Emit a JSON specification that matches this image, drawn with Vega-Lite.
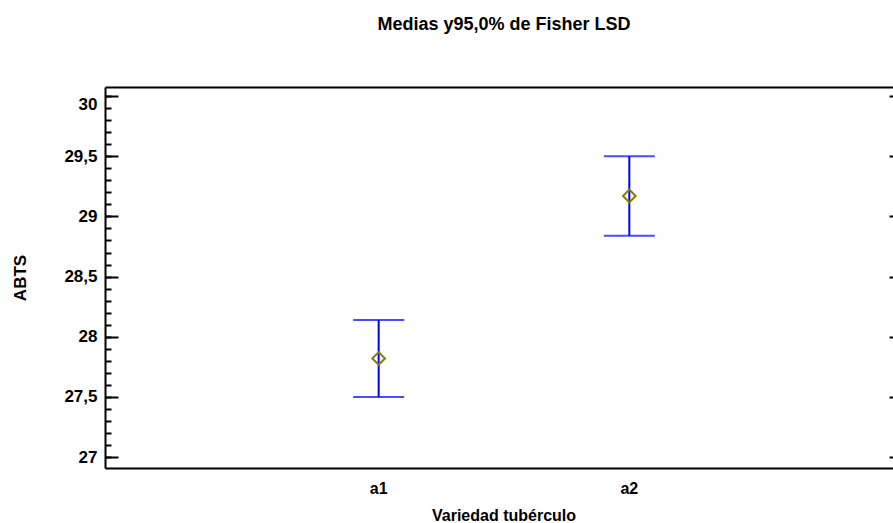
{
  "$schema": "https://vega.github.io/schema/vega-lite/v6.json",
  "autosize": {"type": "none"},
  "padding": {"left": 105, "top": 87, "right": 0, "bottom": 55},
  "width": 788,
  "height": 381,
  "title": {
    "text": "Medias y95,0% de Fisher LSD",
    "font": "Liberation Sans",
    "fontSize": 18,
    "fontWeight": "bold",
    "color": "#000000",
    "anchor": "middle",
    "frame": "group",
    "baseline": "alphabetic",
    "offset": 39,
    "dx": 5
  },
  "data": {
    "values": [
      {"variedad": "a1", "media": 27.82, "inferior": 27.50, "superior": 28.14},
      {"variedad": "a2", "media": 29.17, "inferior": 28.84, "superior": 29.50}
    ]
  },
  "resolve": {"axis": {"x": "independent", "y": "independent"}},
  "layer": [
    {
      "mark": {"type": "rule", "color": "#0000ff", "strokeWidth": 2},
      "encoding": {
        "x": {
          "field": "variedad", "type": "nominal",
          "scale": {"type": "band", "domain": ["a1", "a2"], "paddingInner": 0, "paddingOuter": 0.572, "align": 0.5174},
          "axis": {
            "orient": "bottom",
            "ticks": false,
            "domain": true, "domainColor": "#000000", "domainWidth": 2,
            "labelFont": "Liberation Sans", "labelFontSize": 16, "labelFontWeight": "bold", "labelColor": "#000000",
            "labelBaseline": "alphabetic", "labelPadding": 25.5, "labelAngle": 0,
            "title": "Variedad tubérculo",
            "titleFont": "Liberation Sans", "titleFontSize": 16, "titleFontWeight": "bold", "titleColor": "#000000",
            "titleBaseline": "alphabetic", "titleAlign": "center", "titleX": 398.5, "titleY": 52,
            "grid": false
          }
        },
        "y": {
          "field": "inferior", "type": "quantitative",
          "scale": {"domain": [26.91, 30.075], "nice": false, "zero": false},
          "axis": {
            "orient": "left",
            "values": [27, 27.5, 28, 28.5, 29, 29.5, 30],
            "labelExpr": "replace(format(datum.value, '.1~f'), '.', ',')",
            "tickSize": -13, "tickWidth": 2, "tickColor": "#000000",
            "domain": true, "domainColor": "#000000", "domainWidth": 2,
            "labelFont": "Liberation Sans", "labelFontSize": 17, "labelFontWeight": "bold", "labelColor": "#000000",
            "labelPadding": 21, "labelFlush": 10,
            "title": "ABTS",
            "titleFont": "Liberation Sans", "titleFontSize": 17, "titleFontWeight": "bold", "titleColor": "#000000",
            "titleAngle": 270, "titleBaseline": "alphabetic", "titleAlign": "center", "titleX": -80, "titleY": 190.5,
            "grid": false
          }
        },
        "y2": {"field": "superior"}
      }
    },
    {
      "mark": {"type": "tick", "orient": "horizontal", "color": "#0000ff", "size": 51, "thickness": 2},
      "encoding": {
        "x": {
          "field": "variedad", "type": "nominal",
          "scale": {"type": "band", "domain": ["a1", "a2"], "paddingInner": 0, "paddingOuter": 0.572, "align": 0.5174},
          "axis": {
            "orient": "top", "ticks": false, "labels": false, "title": null,
            "domain": true, "domainColor": "#000000", "domainWidth": 2, "grid": false
          }
        },
        "y": {
          "field": "inferior", "type": "quantitative",
          "scale": {"domain": [26.91, 30.075], "nice": false, "zero": false},
          "axis": {
            "orient": "left",
            "values": [27, 27.1, 27.2, 27.3, 27.4, 27.5, 27.6, 27.7, 27.8, 27.9, 28, 28.1, 28.2, 28.3, 28.4, 28.5, 28.6, 28.7, 28.8, 28.9, 29, 29.1, 29.2, 29.3, 29.4, 29.5, 29.6, 29.7, 29.8, 29.9, 30],
            "tickSize": -6, "tickWidth": 2, "tickColor": "#000000",
            "labels": false, "domain": false, "title": null, "grid": false
          }
        }
      }
    },
    {
      "mark": {"type": "tick", "orient": "horizontal", "color": "#0000ff", "size": 51, "thickness": 2},
      "encoding": {
        "x": {
          "field": "variedad", "type": "nominal",
          "scale": {"type": "band", "domain": ["a1", "a2"], "paddingInner": 0, "paddingOuter": 0.572, "align": 0.5174},
          "axis": null
        },
        "y": {
          "field": "superior", "type": "quantitative",
          "scale": {"domain": [26.91, 30.075], "nice": false, "zero": false},
          "axis": {
            "orient": "right",
            "values": [27, 27.5, 28, 28.5, 29, 29.5, 30],
            "tickSize": -4, "tickWidth": 2, "tickColor": "#000000",
            "labels": false, "domain": false, "title": null, "grid": false
          }
        }
      }
    },
    {
      "mark": {"type": "point", "shape": "diamond", "filled": false, "color": "#808000", "strokeWidth": 2, "size": 160, "opacity": 1},
      "encoding": {
        "x": {
          "field": "variedad", "type": "nominal",
          "scale": {"type": "band", "domain": ["a1", "a2"], "paddingInner": 0, "paddingOuter": 0.572, "align": 0.5174},
          "axis": null
        },
        "y": {
          "field": "media", "type": "quantitative",
          "scale": {"domain": [26.91, 30.075], "nice": false, "zero": false},
          "axis": null
        }
      }
    }
  ],
  "config": {
    "view": {"stroke": null},
    "background": "#ffffff",
    "font": "Liberation Sans"
  }
}
